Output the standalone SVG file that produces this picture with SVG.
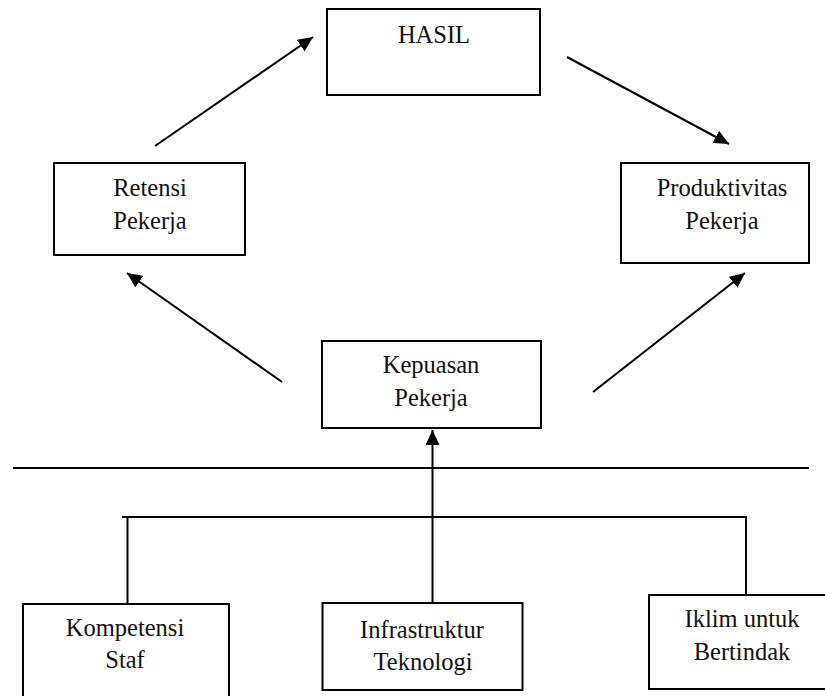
<svg xmlns="http://www.w3.org/2000/svg" width="825" height="696" viewBox="0 0 825 696">
<style>
.box{fill:#fff;stroke:#000;stroke-width:2}
.t{font-family:"Liberation Serif","Times New Roman",serif;font-size:24.5px;fill:#111;text-anchor:middle}
.c{stroke:#000;stroke-width:2;fill:none}
</style>
<defs>
<marker id="ah" markerUnits="userSpaceOnUse" markerWidth="16" markerHeight="14" refX="15" refY="7" orient="auto">
<path d="M0,0 L15,7 L0,14 Z" fill="#000"/>
</marker>
</defs>
<rect width="825" height="696" fill="#fff"/>
<g id="connectors">
<line class="c" x1="155" y1="146" x2="313" y2="37" marker-end="url(#ah)"/>
<line class="c" x1="567" y1="57" x2="729" y2="144" marker-end="url(#ah)"/>
<line class="c" x1="282" y1="382" x2="127" y2="273" marker-end="url(#ah)"/>
<line class="c" x1="593" y1="392" x2="745" y2="273" marker-end="url(#ah)"/>
<line class="c" x1="13" y1="468" x2="809" y2="468"/>
<line class="c" x1="432.5" y1="603" x2="432.5" y2="430" marker-end="url(#ah)"/>
<line class="c" x1="122" y1="517" x2="747" y2="517"/>
<line class="c" x1="127.5" y1="517" x2="127.5" y2="604"/>
<line class="c" x1="746" y1="516" x2="746" y2="595"/>
</g>
<g id="hasil">
<rect class="box" x="327" y="9" width="213" height="86"/>
<text class="t" x="434" y="43">HASIL</text>
</g>
<g id="retensi">
<rect class="box" x="54" y="163" width="191" height="92"/>
<text class="t" x="150" y="196">Retensi</text>
<text class="t" x="150" y="229">Pekerja</text>
</g>
<g id="produktivitas">
<rect class="box" x="621" y="163" width="188" height="100"/>
<text class="t" x="722" y="196">Produktivitas</text>
<text class="t" x="722" y="229">Pekerja</text>
</g>
<g id="kepuasan">
<rect class="box" x="322" y="341" width="219" height="87"/>
<text class="t" x="431" y="373">Kepuasan</text>
<text class="t" x="431" y="406">Pekerja</text>
</g>
<g id="kompetensi">
<rect class="box" x="23" y="604" width="206" height="100"/>
<text class="t" x="125" y="636">Kompetensi</text>
<text class="t" x="125" y="668">Staf</text>
</g>
<g id="infrastruktur">
<rect class="box" x="322.5" y="603" width="200" height="87"/>
<text class="t" x="422" y="638">Infrastruktur</text>
<text class="t" x="423" y="670">Teknologi</text>
</g>
<g id="iklim">
<rect class="box" x="649" y="595" width="180" height="94"/>
<text class="t" x="742" y="627">Iklim untuk</text>
<text class="t" x="742" y="660">Bertindak</text>
</g>
</svg>
